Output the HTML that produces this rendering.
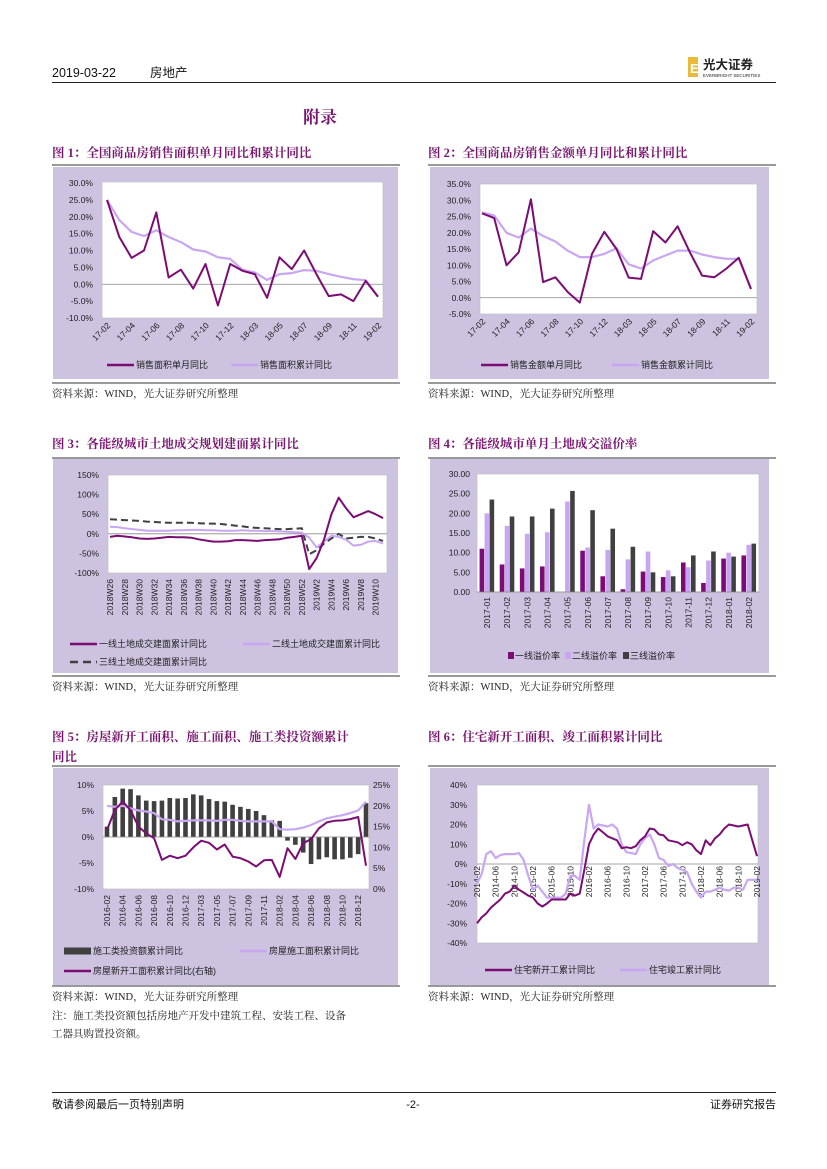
<!DOCTYPE html>
<html><head><meta charset="utf-8">
<style>
body{margin:0;background:#fff;}
svg{display:block;font-family:"Liberation Sans","Noto Sans CJK SC",sans-serif;}
.t{font-family:"Liberation Serif","Noto Serif CJK SC",serif;font-weight:bold;fill:#7a1670;font-size:12.5px;}
.s{font-family:"Liberation Serif","Noto Serif CJK SC",serif;font-size:10.5px;fill:#222;}
.tk{font-size:8.5px;fill:#222;}
.lg{font-size:9px;fill:#222;}
</style></head><body>
<svg id="pg" width="827" height="1169" viewBox="0 0 827 1169" xmlns="http://www.w3.org/2000/svg">
<text x="52" y="77" font-size="12.5" fill="#111">2019-03-22</text>
<text x="150" y="77" font-size="12.5" fill="#111">房地产</text>
<g>
<rect x="688" y="57" width="10" height="20" fill="#e8b93a"/>
<text x="690" y="73" font-size="13" font-weight="bold" fill="#fff">E</text>
<text x="703" y="69" font-size="12.5" font-weight="bold" fill="#222">光大证券</text>
<text x="703" y="77" font-size="4.5" fill="#222">EVERBRIGHT SECURITIES</text>
</g>
<line x1="52" y1="82.5" x2="776" y2="82.5" stroke="#222" stroke-width="1"/>
<text x="320" y="123" text-anchor="middle" font-size="17" font-weight="bold" fill="#7a1670" font-family="Liberation Serif,Noto Serif CJK SC,serif">附录</text>

<text class="t" x="52" y="157">图 1：全国商品房销售面积单月同比和累计同比</text>
<text class="t" x="428" y="157">图 2：全国商品房销售金额单月同比和累计同比</text>
<text class="t" x="52" y="448">图 3：各能级城市土地成交规划建面累计同比</text>
<text class="t" x="428" y="448">图 4：各能级城市单月土地成交溢价率</text>
<text class="t" x="52" y="741">图 5：房屋新开工面积、施工面积、施工类投资额累计</text>
<text class="t" x="52" y="761">同比</text>
<text class="t" x="428" y="741">图 6：住宅新开工面积、竣工面积累计同比</text>

<line x1="52" y1="165" x2="400" y2="165" stroke="#333" stroke-width="1"/>
<line x1="428" y1="165" x2="776" y2="165" stroke="#333" stroke-width="1"/>
<line x1="52" y1="458" x2="400" y2="458" stroke="#333" stroke-width="1"/>
<line x1="428" y1="458" x2="776" y2="458" stroke="#333" stroke-width="1"/>
<line x1="52" y1="766" x2="400" y2="766" stroke="#333" stroke-width="1"/>
<line x1="428" y1="766" x2="776" y2="766" stroke="#333" stroke-width="1"/>
<line x1="52" y1="383" x2="400" y2="383" stroke="#333" stroke-width="1"/>
<line x1="428" y1="383" x2="776" y2="383" stroke="#333" stroke-width="1"/>
<line x1="52" y1="676" x2="400" y2="676" stroke="#333" stroke-width="1"/>
<line x1="428" y1="676" x2="776" y2="676" stroke="#333" stroke-width="1"/>
<line x1="52" y1="986" x2="400" y2="986" stroke="#333" stroke-width="1"/>
<line x1="428" y1="986" x2="776" y2="986" stroke="#333" stroke-width="1"/>

<text class="s" x="52" y="397">资料来源：WIND，光大证券研究所整理</text>
<text class="s" x="428" y="397">资料来源：WIND，光大证券研究所整理</text>
<text class="s" x="52" y="690">资料来源：WIND，光大证券研究所整理</text>
<text class="s" x="428" y="690">资料来源：WIND，光大证券研究所整理</text>
<text class="s" x="52" y="1000">资料来源：WIND，光大证券研究所整理</text>
<text class="s" x="428" y="1000">资料来源：WIND，光大证券研究所整理</text>
<text class="s" x="52" y="1019">注：施工类投资额包括房地产开发中建筑工程、安装工程、设备</text>
<text class="s" x="52" y="1037">工器具购置投资额。</text>

<line x1="52" y1="1092.5" x2="776" y2="1092.5" stroke="#222" stroke-width="1"/>
<text x="52" y="1108" font-size="11" fill="#111">敬请参阅最后一页特别声明</text>
<text x="413" y="1108" font-size="11" fill="#111" text-anchor="middle">-2-</text>
<text x="776" y="1108" font-size="11" fill="#111" text-anchor="end">证券研究报告</text>
<g id="charts"></g>
</svg>
<script>
const c1Labels=['17-02','17-03','17-04','17-05','17-06','17-07','17-08','17-09','17-10','17-11','17-12','18-02','18-03','18-04','18-05','18-06','18-07','18-08','18-09','18-10','18-11','18-12','19-02'];
const c1Single=[25,14,7.8,10,21.3,2,4.3,-1.3,6,-6.3,6,4,3,-4,8,4.5,10,3,-3.5,-3,-5,1,-3.7];
const c1Cum=[25,19,15.5,14.3,16,14,12.5,10.3,9.7,8,7.5,4.3,3.5,1.3,3,3.3,4.2,4,3,2.2,1.5,1.2,-3.7];
const c1Ticks=[30,25,20,15,10,5,0,-5,-10];
const c2Single=[26,24.5,10,14,30.3,4.8,6.3,1.8,-1.5,13.5,20.3,15,6.2,5.8,20.5,17,22,14,6.8,6.3,9,12.3,2.7];
const c2Cum=[26.3,25.3,20,18.5,21.3,19,17.3,14.5,12.5,12.5,13.5,15.2,10.3,9,11.5,13,14.5,14.5,13.3,12.5,12,12,2.7];
const c2Ticks=[35,30,25,20,15,10,5,0,-5];
const c3Labels=['2018W26','2018W27','2018W28','2018W29','2018W30','2018W31','2018W32','2018W33','2018W34','2018W35','2018W36','2018W37','2018W38','2018W39','2018W40','2018W41','2018W42','2018W43','2018W44','2018W45','2018W46','2018W47','2018W48','2018W49','2018W50','2018W51','2018W52','2019W1','2019W2','2019W3','2019W4','2019W5','2019W6','2019W7','2019W8','2019W9','2019W10','2019W11'];
const c3Tier1=[-8,-5,-7,-9,-12,-13,-12,-10,-8,-9,-9,-10,-14,-17,-20,-20,-19,-16,-16,-17,-18,-16,-15,-14,-10,-8,-5,-90,-62,-15,50,92,65,42,50,58,50,40];
const c3Tier2=[18,17,14,12,10,8,8,8,8,9,9,10,10,9,9,8,8,8,9,8,8,7,7,6,5,4,3,-10,-35,-20,-5,-8,-15,-30,-28,-20,-18,-25];
const c3Tier3=[37,36,35,34,33,31,30,29,28,28,28,28,27,26,26,25,23,21,19,16,15,14,13,12,12,13,14,-52,-42,-25,-12,0,-12,-10,-8,-8,-12,-18];
const c3Ticks=[150,100,50,0,-50,-100];
const c4Labels=['2017-01','2017-02','2017-03','2017-04','2017-05','2017-06','2017-07','2017-08','2017-09','2017-10','2017-11','2017-12','2018-01','2018-02'];
const c4Tier1=[11,7,6,6.5,0,10.5,4,0.7,5.2,3.8,7.5,2.3,8.5,9.3];
const c4Tier2=[20,16.8,14.8,15.2,23,11.3,10.7,8.3,10.3,5.5,6.3,8,10,12];
const c4Tier3=[23.5,19.2,19.2,21.2,25.7,20.8,16.1,11.5,5,4,9.3,10.3,9,12.3];
const c4Ticks=[30,25,20,15,10,5,0];
const c5Labels=['2016-02','2016-03','2016-04','2016-05','2016-06','2016-07','2016-08','2016-09','2016-10','2016-11','2016-12','2017-02','2017-03','2017-04','2017-05','2017-06','2017-07','2017-08','2017-09','2017-10','2017-11','2017-12','2018-02','2018-03','2018-04','2018-05','2018-06','2018-07','2018-08','2018-09','2018-10','2018-11','2018-12','2019-02'];
const c5Invest=[2,7.7,9.3,9.2,8,7,6.9,7,7.5,7.4,7.5,8.2,8,7.3,6.9,6.8,6.2,5.8,5.4,5,4.2,3.2,3.1,-0.7,-1.5,-3,-5.2,-4.3,-3.9,-4.3,-4.3,-4,-3.3,6.5];
const c5Construct=[6.0,5.8,6.0,5.5,5.1,4.9,4.6,3.4,3.3,3.0,3.1,3.2,3.2,3.2,3.1,3.3,3.3,3.1,3.0,3.0,3.0,3.0,1.5,1.4,1.5,1.8,2.3,3.0,3.6,3.9,4.2,4.6,5.1,6.8];
const c5NewStart=[14.2,19,21,19,15,13.4,12.2,7,8,7.4,8,10,11.6,11.1,9.5,10.7,7.8,7.4,6.6,5.4,6.9,7,2.9,9.8,7.2,11,12,14.6,16,16.4,16.5,16.8,17.3,5.6];
const c5LeftTicks=[10,5,0,-5,-10];
const c5RightTicks=[25,20,15,10,5,0];
const c6Years=['2014','2015','2016','2017','2018','2019'];
const c6Months=['01','02','03','04','05','06','07','08','09','10','11','12'];
const c6NewStart=[-30,-27,-25,-22,-20,-18,-15,-14,-11,-13,-14.5,
 -16,-17,-20,-21.5,-20,-18,-18,-18,-18,-15,-16,-15,
 -3,10,15,18,16,14,13,12,8,8.5,8,9,
 12,14,18,17.5,15,14.5,12,11.5,11,9.5,11,10,
 7,5,12,9.5,13,15,18,20,19.5,19,19.5,20,
 12,4];
const c6Complete=[-10,-5,5,6.5,3,4.5,5,5,5,5.5,2,
 -6,-13,-11,-14,-17,-17,-17,-17,-15,-6,-6,-8,
 12,30,18,20,19.5,19,20,18,10,6,5.5,5,
 10,13,15,10,3,2,-1,0,-2,-3,-4,-10,
 -14,-17,-14,-14,-13,-12,-13,-13.5,-12,-12,-13,-8,
 -8,-8];
const c6Ticks=[40,30,20,10,0,-10,-20,-30,-40];

const NS='http://www.w3.org/2000/svg';
const root=document.getElementById('charts');
function mk(tag,attrs,parent){const e=document.createElementNS(NS,tag);for(const k in attrs)e.setAttribute(k,attrs[k]);(parent||root).appendChild(e);return e;}
function lin(d0,d1,r0,r1){return v=>r0+(v-d0)*(r1-r0)/(d1-d0);}
const DARK='#7b0c74',LIGHT='#c9a6f2',BG='#cdc2df',GREY='#404040';

function frame(name,bx,by,bw,bh,px,py,pw,ph){
  const g=mk('g',{});
  
  
  const b=mk('rect',{x:bx,y:by,width:bw,height:bh,fill:BG},g);
  
  
  const p=mk('rect',{x:px,y:py,width:pw,height:ph,fill:'#fff',stroke:'#bbb','stroke-width':0.6},g);
  
  
  return g;
}
function yTicks(g,ticks,yf,x,fmt,anchor,name){
  ticks.forEach(t=>{
    const el=mk('text',{x:x,y:yf(t)+3,'text-anchor':anchor||'end',class:'tk'},g);
    el.textContent=fmt(t);
    
    
  });
}
function zeroLine(g,x0,x1,y,name){
  const el=mk('line',{x1:x0,x2:x1,y1:y,y2:y,stroke:'#888','stroke-width':0.8},g);
  
  
}
function drawLine(g,vals,xf,yf,color,w,dash,name){
  const pts=vals.map((v,i)=>xf(i).toFixed(1)+','+yf(v).toFixed(1)).join(' ');
  const el=mk('polyline',{points:pts,fill:'none',stroke:color,'stroke-width':w,'stroke-linejoin':'round','stroke-dasharray':dash||'none'},g);
  
  
}
function legendLine(g,x,y,color,w,dash,label,name){
  const l=mk('line',{x1:x,x2:x+27,y1:y,y2:y,stroke:color,'stroke-width':w,'stroke-dasharray':dash||'none'},g);
  
  
  const t=mk('text',{x:x+29,y:y+3,class:'lg'},g);
  t.textContent=label;
  
  
}
function rotLabel(g,x,y,txt,angle,name){
  const t=mk('text',{x:x,y:y,'text-anchor':'end',class:'tk',transform:'rotate('+angle+' '+x+' '+y+')'},g);
  t.textContent=txt;
  
  
}
const pct1=v=>v.toFixed(1)+'%';

// Chart 1
(function(){
  const g=frame('fig1-chart',53,167,345,212,102,182,281,136);
  const yf=lin(30,-10,183,318), xf=i=>107+i*271/(c1Labels.length-1);
  zeroLine(g,102,383,yf(0),'fig1-zero-line');
  yTicks(g,c1Ticks,yf,93,pct1,'end','fig1-y-tick');
  c1Labels.forEach((l,i)=>{if(i%2===0)rotLabel(g,xf(i)+4,yf(-10)+8,l,-45,'fig1-x-label');});
  drawLine(g,c1Cum,xf,yf,LIGHT,2.2,null,'fig1-cumulative-line');
  drawLine(g,c1Single,xf,yf,DARK,2,null,'fig1-single-month-line');
  legendLine(g,107,365,DARK,2.5,null,'销售面积单月同比','fig1-legend-single');
  legendLine(g,231,365,LIGHT,2.5,null,'销售面积累计同比','fig1-legend-cumulative');
})();
// Chart 2
(function(){
  const g=frame('fig2-chart',430,167,339,212,480,184,277,130);
  const yf=lin(35,-5,184,314), xf=i=>482+i*269/(c1Labels.length-1);
  zeroLine(g,480,757,yf(0),'fig2-zero-line');
  yTicks(g,c2Ticks,yf,471,pct1,'end','fig2-y-tick');
  c1Labels.forEach((l,i)=>{if(i%2===0)rotLabel(g,xf(i)+4,yf(-5)+8,l,-45,'fig2-x-label');});
  drawLine(g,c2Cum,xf,yf,LIGHT,2.2,null,'fig2-cumulative-line');
  drawLine(g,c2Single,xf,yf,DARK,2,null,'fig2-single-month-line');
  legendLine(g,481,365,DARK,2.5,null,'销售金额单月同比','fig2-legend-single');
  legendLine(g,612,365,LIGHT,2.5,null,'销售金额累计同比','fig2-legend-cumulative');
})();
// Chart 3
(function(){
  const g=frame('fig3-chart',53,459,345,214,108,475,279,98);
  const yf=lin(150,-100,475,573), xf=i=>110+i*273/(c3Labels.length-1);
  zeroLine(g,108,387,yf(0),'fig3-zero-line');
  yTicks(g,c3Ticks,yf,99,v=>v+'%','end','fig3-y-tick');
  c3Labels.forEach((l,i)=>{if(i%2===0)rotLabel(g,xf(i)+3,579,l,-90,'fig3-x-label');});
  drawLine(g,c3Tier3,xf,yf,GREY,2,'7,4','fig3-tier3-line');
  drawLine(g,c3Tier2,xf,yf,LIGHT,2,null,'fig3-tier2-line');
  drawLine(g,c3Tier1,xf,yf,DARK,2,null,'fig3-tier1-line');
  legendLine(g,70,644,DARK,2.5,null,'一线土地成交建面累计同比','fig3-legend-tier1');
  legendLine(g,243,644,LIGHT,2.5,null,'二线土地成交建面累计同比','fig3-legend-tier2');
  legendLine(g,70,662,GREY,2.5,'8,5','三线土地成交建面累计同比','fig3-legend-tier3');
})();
// Chart 4
(function(){
  const g=frame('fig4-chart',430,459,339,214,477,474,282,118);
  const yf=lin(30,0,474,592), gw=282/c4Labels.length, cx=i=>477+gw*(i+0.5);
  yTicks(g,c4Ticks,yf,470,v=>v.toFixed(2),'end','fig4-y-tick');
  const series=[[c4Tier1,DARK,'fig4-bar-tier1'],[c4Tier2,LIGHT,'fig4-bar-tier2'],[c4Tier3,GREY,'fig4-bar-tier3']];
  c4Labels.forEach((l,i)=>{
    series.forEach((s,k)=>{
      const v=s[0][i];
      const r=mk('rect',{x:cx(i)-7.5+k*5,y:yf(v),width:4.6,height:yf(0)-yf(v),fill:s[1]},g);
      
      
    });
    rotLabel(g,cx(i)+3,597,l,-90,'fig4-x-label');
  });
  zeroLine(g,477,759,yf(0),'fig4-x-axis');
  [[DARK,'一线溢价率',508],[LIGHT,'二线溢价率',565],[GREY,'三线溢价率',623]].forEach((d,k)=>{
    const r=mk('rect',{x:d[2],y:652,width:6,height:7,fill:d[0]},g);
    
    
    const t=mk('text',{x:d[2]+7,y:659,class:'lg'},g);
    t.textContent=d[1];
    
    
  });
})();
// Chart 5
(function(){
  const g=frame('fig5-chart',53,768,345,217,103,785,266,104);
  const yl=lin(10,-10,785,889), yr=lin(25,0,785,889), xf=i=>107+i*259/(c5Labels.length-1);
  yTicks(g,c5LeftTicks,yl,94,v=>v+'%','end','fig5-left-y-tick');
  yTicks(g,c5RightTicks,yr,373,v=>v+'%','start','fig5-right-y-tick');
  c5Invest.forEach((v,i)=>{
    const y0=Math.min(yl(v),yl(0)), h=Math.abs(yl(v)-yl(0));
    const r=mk('rect',{x:xf(i)-2.3,y:y0,width:4.6,height:h,fill:GREY},g);
    
    
  });
  zeroLine(g,103,369,yl(0),'fig5-zero-line');
  c5Labels.forEach((l,i)=>{if(i%2===0)rotLabel(g,xf(i)+3,895,l,-90,'fig5-x-label');});
  drawLine(g,c5Construct,xf,yl,LIGHT,2.2,null,'fig5-construction-area-line');
  drawLine(g,c5NewStart,xf,yr,DARK,2,null,'fig5-new-start-line');
  legendLine(g,64,951,GREY,7,null,'施工类投资额累计同比','fig5-legend-investment');
  legendLine(g,240,951,LIGHT,2.5,null,'房屋施工面积累计同比','fig5-legend-construction');
  legendLine(g,64,971,DARK,2.5,null,'房屋新开工面积累计同比(右轴)','fig5-legend-new-start');
})();
// Chart 6
(function(){
  const g=frame('fig6-chart',430,768,339,217,477,785,281,158);
  const labels=[];
  c6Years.forEach(y=>c6Months.forEach(m=>labels.push(y+'-'+m)));
  const lab=labels.slice(1,labels.length-10);
  const yf=lin(40,-40,785,943), xf=i=>477+i*280/(lab.length-1);
  yTicks(g,c6Ticks,yf,467,v=>v+'%','end','fig6-y-tick');
  zeroLine(g,477,758,yf(0),'fig6-zero-line');
  lab.forEach((l,i)=>{if(i%4===0)rotLabel(g,xf(i)+3,yf(0)+2,l,-90,'fig6-x-label');});
  drawLine(g,c6Complete,xf,yf,LIGHT,2.2,null,'fig6-completion-line');
  drawLine(g,c6NewStart,xf,yf,DARK,2,null,'fig6-new-start-line');
  legendLine(g,485,970,DARK,2.5,null,'住宅新开工累计同比','fig6-legend-new-start');
  legendLine(g,620,970,LIGHT,2.5,null,'住宅竣工累计同比','fig6-legend-completion');
})();
</script>
</body></html>
